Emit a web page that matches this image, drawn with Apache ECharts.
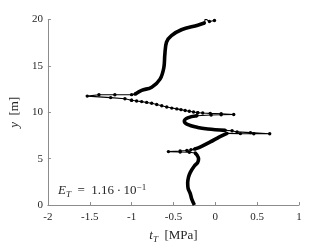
<!DOCTYPE html>
<html>
<head>
<meta charset="utf-8">
<script src="https://cdn.jsdelivr.net/npm/echarts@6/dist/echarts.min.js"></script>
<style>html,body{margin:0;padding:0;background:#fff;}#c{width:332px;height:249px;}</style>
</head>
<body>
<div id="c"></div>
<script>
// x ticks / y ticks
const xTicks = [-2, -1.5, -1, -0.5, 0, 0.5, 1];
const yTicks = [0, 5, 10, 15, 20];

// curve segments [t_T (MPa), y (m)], bottom to top
const lowerBranch = [[-0.25,0],[-0.28,0.6],[-0.30,1.25],[-0.325,1.8],[-0.33,2.4],[-0.32,3.0],[-0.30,3.5],[-0.25,4.2],[-0.21,4.6],[-0.20,5.0],[-0.22,5.4],[-0.24,5.6]];
const spikeA = [[-0.24,5.6],[-0.31,5.68],[-0.42,5.72],[-0.56,5.76],[-0.42,5.82],[-0.34,5.88],[-0.29,5.95],[-0.25,6.02]];
const midBranch1 = [[-0.25,6.02],[-0.17,6.3],[-0.06,6.8],[0.05,7.35],[0.14,7.72]];
const spikeB = [[0.14,7.72],[0.30,7.70],[0.46,7.69],[0.65,7.68],[0.42,7.80],[0.26,7.88],[0.20,8.0],[0.12,8.05]];
const midBranch2 = [[0.12,8.05],[-0.09,8.2],[-0.21,8.36],[-0.34,8.72],[-0.37,9.06],[-0.33,9.4],[-0.22,9.62]];
const spikeC = [[-0.22,9.62],[-0.05,9.70],[0.07,9.73],[0.22,9.76],[0.07,9.84],[-0.06,9.88],[-0.15,9.92],[-0.21,9.95]];
const dottedBranch = [[-0.21,9.95],[-0.26,10.03],[-0.31,10.10],[-0.36,10.19],[-0.41,10.28],[-0.46,10.36],[-0.52,10.45],[-0.58,10.57],[-0.64,10.70],[-0.70,10.84],[-0.76,10.97],[-0.82,11.06],[-0.88,11.15],[-0.94,11.22],[-1.0,11.30]];
const spikeD = [[-1.0,11.30],[-1.08,11.45],[-1.25,11.58],[-1.53,11.74],[-1.39,11.88],[-1.20,11.88],[-1.0,11.9],[-0.96,11.95]];
const upperBranch = [[-0.96,11.95],[-0.88,12.36],[-0.76,12.7],[-0.66,13.57],[-0.615,14.8],[-0.603,16.2],[-0.583,17.57],[-0.524,18.26],[-0.405,18.9],[-0.21,19.38],[-0.13,19.62]];
const topTail = [[-0.13,19.62],[-0.12,20.1],[-0.07,19.78],[-0.01,19.9]];

const axisGray = '#8c8c8c';
const txt = '#262626';
const serif = '"Liberation Serif","DejaVu Serif",serif';

function thick(data) {
  return {type:'line', data, smooth:0.35, symbol:'none', lineStyle:{width:3.6, color:'#000'}, z:3};
}
function marked(data) {
  return {type:'line', data, smooth:false, symbol:'circle', symbolSize:3.4, itemStyle:{color:'#000'}, lineStyle:{width:1.1, color:'#000'}, z:4};
}

const chart = echarts.init(document.getElementById('c'), null, {renderer:'canvas'});
chart.setOption({
  animation:false,
  backgroundColor:'#fff',
  grid:{left:45, right:33, top:19.5, bottom:37, containLabel:false},
  xAxis:{
    type:'value', min:xTicks[0], max:xTicks[xTicks.length-1], interval:0.5,
    name:'{i|t}{s|T}{n|\u2002[MPa]}', nameLocation:'middle', nameGap:23,
    nameTextStyle:{rich:{
      i:{fontFamily:serif, fontStyle:'italic', fontSize:13, color:txt, lineHeight:16},
      s:{fontFamily:serif, fontStyle:'italic', fontSize:9, color:txt, lineHeight:16, padding:[7,0,0,0]},
      n:{fontFamily:serif, fontSize:13, color:txt, lineHeight:16}
    }},
    axisLine:{show:true, onZero:false, lineStyle:{color:axisGray, width:1}},
    axisTick:{show:true, inside:true, length:3, lineStyle:{color:axisGray}},
    axisLabel:{fontFamily:serif, fontSize:11, color:txt, margin:7, formatter:v=>String(v)},
    splitLine:{show:false}
  },
  yAxis:{
    type:'value', min:yTicks[0], max:yTicks[yTicks.length-1], interval:5,
    name:'{i|y}{n|\u2002[m]}', nameLocation:'middle', nameGap:16,
    nameTextStyle:{rich:{
      i:{fontFamily:serif, fontStyle:'italic', fontSize:13, color:txt},
      n:{fontFamily:serif, fontSize:13, color:txt}
    }},
    axisLine:{show:true, onZero:false, lineStyle:{color:axisGray, width:1}},
    axisTick:{show:true, inside:true, length:3, lineStyle:{color:axisGray}},
    axisLabel:{fontFamily:serif, fontSize:11, color:txt, margin:5},
    splitLine:{show:false}
  },
  graphic:[{
    type:'text', left:58, top:183,
    style:{
      text:'{i|E}{s|T}{n|\u2002=\u20021.16\u2009·\u200910}{p|−1}',
      rich:{
        i:{fontFamily:serif, fontStyle:'italic', fontSize:13, fill:txt, lineHeight:18},
        s:{fontFamily:serif, fontStyle:'italic', fontSize:9, fill:txt, lineHeight:18, padding:[7,0,0,0]},
        n:{fontFamily:serif, fontSize:13, fill:txt, lineHeight:18},
        p:{fontFamily:serif, fontSize:9, fill:txt, lineHeight:18, padding:[0,0,7,0]}
      }
    }
  }],
  series:[
    thick(lowerBranch), marked(spikeA), thick(midBranch1), marked(spikeB),
    thick(midBranch2), marked(spikeC), marked(dottedBranch), marked(spikeD),
    thick(upperBranch), marked(topTail)
  ]
});
</script>
</body>
</html>
